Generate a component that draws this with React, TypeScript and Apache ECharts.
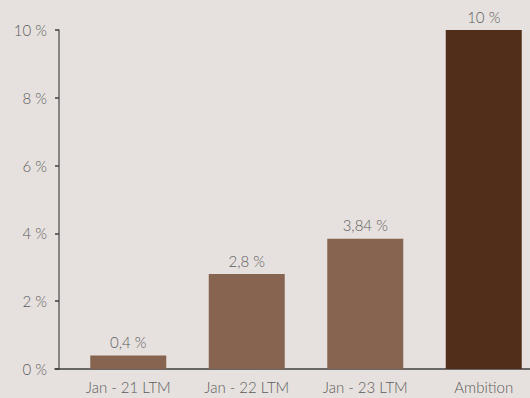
import React, { useEffect, useRef } from "react";
import * as echarts from "echarts";

const categories = ["Jan - 21 LTM", "Jan - 22 LTM", "Jan - 23 LTM", "Ambition"];
const values = [0.4, 2.8, 3.84, 10];
const barColors = ["#86644f", "#86644f", "#86644f", "#512e1a"];
const yTicks = { min: 0, max: 10, interval: 2 };

const fmt = (v: number) => String(v).replace(".", ",") + " %";

export default function App() {
  const ref = useRef<HTMLDivElement>(null);
  useEffect(() => {
    document.body.style.margin = "0";
    const chart = echarts.init(ref.current!, undefined, { renderer: "svg" });
    const font = "Lato";
    const textColor = "#5c5c5c";
    const weight = 300;
    chart.setOption({
      animation: false,
      backgroundColor: "#e6e1de",
      textStyle: { fontFamily: font },
      grid: [
        { left: 69, width: 474, top: 30, bottom: 29 },
        { left: 55, right: 15, top: 30, bottom: 29 },
      ],
      xAxis: [
        {
          type: "category",
          data: categories,
          gridIndex: 0,
          axisLine: { show: false },
          axisTick: { show: false },
          axisLabel: { color: textColor, fontSize: 15, fontFamily: font, fontWeight: weight, margin: 10 },
        },
        {
          type: "value",
          gridIndex: 1,
          min: 0,
          max: 1,
          axisLine: { show: true, lineStyle: { color: "#3f3f3f", width: 1.5 } },
          axisTick: { show: false },
          axisLabel: { show: false },
          splitLine: { show: false },
        },
      ],
      yAxis: [
        {
          type: "value",
          gridIndex: 0,
          min: yTicks.min,
          max: yTicks.max,
          interval: yTicks.interval,
          offset: 10,
          axisLine: { show: true, lineStyle: { color: "#666666", width: 1.5 } },
          axisTick: { show: true, length: 4, lineStyle: { color: "#3f3f3f", width: 1.5 } },
          splitLine: { show: false },
          axisLabel: {
            color: textColor,
            fontSize: 15,
            fontFamily: font,
            fontWeight: weight,
            margin: 12,
            formatter: (v: number) => fmt(v),
          },
        },
        {
          type: "value",
          gridIndex: 1,
          min: 0,
          max: 1,
          show: false,
        },
      ],
      series: [
        {
          type: "bar",
          xAxisIndex: 0,
          yAxisIndex: 0,
          barWidth: 76,
          data: values.map((v, i) => ({ value: v, itemStyle: { color: barColors[i] } })),
          label: {
            show: true,
            position: "top",
            distance: 6,
            color: textColor,
            fontSize: 15,
            fontFamily: font,
            fontWeight: weight,
            formatter: (p: any) => fmt(p.value),
          },
        },
      ],
    });
    return () => chart.dispose();
  }, []);
  return (
    <div style={{ width: 530, height: 398, overflow: "hidden", position: "relative" }}>
      <div ref={ref} style={{ width: 545, height: 398 }} />
    </div>
  );
}
